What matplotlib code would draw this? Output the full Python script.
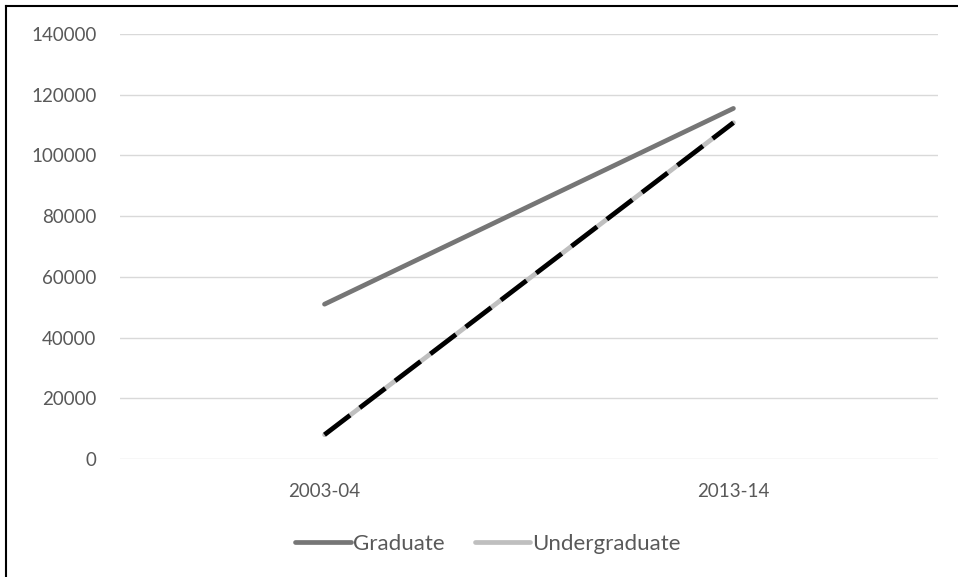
import matplotlib
matplotlib.use("Agg")
import matplotlib.pyplot as plt
from matplotlib.lines import Line2D

plt.rcParams['font.family'] = ['Lato', 'DejaVu Sans']

years = ['2003-04', '2013-14']
graduate = [51000, 115500]
undergraduate = [8000, 110800]
yticks = [0, 20000, 40000, 60000, 80000, 100000, 120000, 140000]

fig = plt.figure(figsize=(9.58, 5.77), dpi=100)
ax = fig.add_axes([0.1253, 0.2045, 0.8537, 0.7365])

x = list(range(len(years)))
ax.plot(x, graduate, color='#767676', lw=3.4, solid_capstyle='round', label='Graduate')
ax.plot(x, undergraduate, color='#bfbfbf', lw=3.4, solid_capstyle='round', label='Undergraduate')
ax.plot(x, undergraduate, color='black', lw=3.4, dashes=(6.8, 2.6), dash_capstyle='butt')

ax.set_xlim(-0.5, 1.5)
ax.set_ylim(0, 140000)
ax.set_yticks(yticks)
ax.set_yticklabels([str(v) for v in yticks])
ax.set_xticks(x)
ax.set_xticklabels(years)
ax.grid(axis='y', color='#d9d9d9', lw=1)
ax.set_axisbelow(True)
for s in ax.spines.values():
    s.set_visible(False)
ax.tick_params(axis='y', length=0, pad=17, labelsize=13.5, labelcolor='#595959')
ax.tick_params(axis='x', length=0, pad=17, labelsize=13.5, labelcolor='#595959')

leg = ax.legend(loc='center', bbox_to_anchor=(0.45, -0.2), ncol=2, frameon=False,
                fontsize=16, handlelength=2.5, handletextpad=0.1, columnspacing=1.35)
for t in leg.get_texts():
    t.set_color('#595959')

# outer border (top and left only visible)
fig.add_artist(Line2D([0.0063, 0.0063], [0, 0.99], transform=fig.transFigure, color='black', lw=1.5))
fig.add_artist(Line2D([0.0063, 1.0], [0.99, 0.99], transform=fig.transFigure, color='black', lw=1.5))

fig.savefig('out.png', dpi=100, facecolor='white')
